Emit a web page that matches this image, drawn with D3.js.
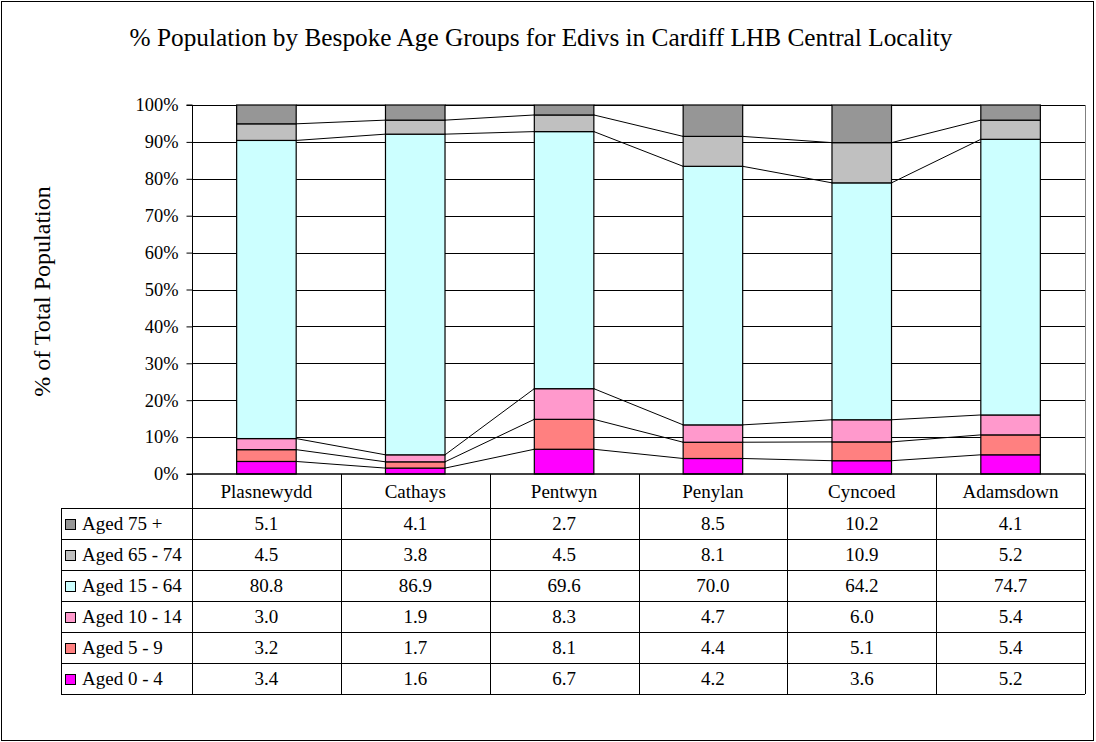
<!DOCTYPE html>
<html>
<head>
<meta charset="utf-8">
<script src="https://cdn.jsdelivr.net/npm/d3@7"></script>
<style>
body { margin: 0; background: #fff; }
</style>
</head>
<body>
<div id="chart"></div>
<script>
var w = 1096, h = 742;
var serif = "Liberation Serif";

// Data
var localities = ["Plasnewydd", "Cathays", "Pentwyn", "Penylan", "Cyncoed", "Adamsdown"];
var ageGroups = ["Aged 0 - 4", "Aged 5 - 9", "Aged 10 - 14", "Aged 15 - 64", "Aged 65 - 74", "Aged 75 +"];
var colours = ["#FF00FF", "#FF8080", "#FF99CC", "#CCFFFF", "#C0C0C0", "#969696"];
var aged0to4 = [3.4, 1.6, 6.7, 4.2, 3.6, 5.2];
var aged5to9 = [3.2, 1.7, 8.1, 4.4, 5.1, 5.4];
var aged10to14 = [3.0, 1.9, 8.3, 4.7, 6.0, 5.4];
var aged15to64 = [80.8, 86.9, 69.6, 70.0, 64.2, 74.7];
var aged65to74 = [4.5, 3.8, 4.5, 8.1, 10.9, 5.2];
var aged75plus = [5.1, 4.1, 2.7, 8.5, 10.2, 4.1];
var yTicks = [0, 0.1, 0.2, 0.3, 0.4, 0.5, 0.6, 0.7, 0.8, 0.9, 1];

var seriesValues = [aged0to4, aged5to9, aged10to14, aged15to64, aged65to74, aged75plus];

// build rows for d3.stack (normalised to 100%)
var rows = localities.map(function(name, i) {
	var row = { name: name };
	var total = 0;
	ageGroups.forEach(function(g, j) { total += seriesValues[j][i]; });
	ageGroups.forEach(function(g, j) { row[g] = seriesValues[j][i] / total; });
	return row;
});
var stacked = d3.stack().keys(ageGroups)(rows);

var svg = d3.select("#chart").append("svg")
	.attr("width", w)
	.attr("height", h)
	.style("font-family", serif);

// outer frame
svg.append("rect")
	.attr("x", 1.5).attr("y", 1.5)
	.attr("width", w - 4).attr("height", h - 3)
	.attr("fill", "#fff").attr("stroke", "#000");

// Title
svg.append("text")
	.attr("x", 541).attr("y", 46)
	.attr("text-anchor", "middle")
	.style("font-family", serif)
	.style("font-size", "25.3px")
	.text("% Population by Bespoke Age Groups for Edivs in Cardiff LHB Central Locality");

// Scales
var plotLeft = 192, plotRight = 1085, plotTop = 105, plotBottom = 474;
var x = d3.scaleBand().domain(localities).range([plotLeft, plotRight]).padding(0);
var y = d3.scaleLinear().domain([0, 1]).range([plotBottom, plotTop]);
var barW = x.bandwidth() * 0.4;
var barX = function(name) { return x(name) + (x.bandwidth() - barW) / 2; };

// Gridlines
svg.append("g").selectAll("line")
	.data(yTicks.slice(1))
	.enter().append("line")
		.attr("x1", plotLeft).attr("x2", plotRight)
		.attr("y1", function(d) { return Math.round(y(d)) + 0.5; })
		.attr("y2", function(d) { return Math.round(y(d)) + 0.5; })
		.attr("stroke", "#000").attr("stroke-width", 1);

// right border of plot area
svg.append("line")
	.attr("x1", plotRight + 0.5).attr("x2", plotRight + 0.5)
	.attr("y1", plotTop).attr("y2", plotBottom)
	.attr("stroke", "#808080");

// Y axis
var yAxis = d3.axisLeft(y)
	.tickValues(yTicks)
	.tickFormat(d3.format(".0%"))
	.tickSize(6)
	.tickPadding(8);
var yg = svg.append("g")
	.attr("transform", "translate(" + (plotLeft + 0.5) + ",0)")
	.call(yAxis);
yg.attr("font-family", null);
yg.selectAll("text").style("font-family", serif).style("font-size", "18.4px");
yg.selectAll("line, path").attr("stroke", "#000");
yg.select(".domain").attr("d", "M-6," + plotTop + "H0V" + plotBottom + "H-6");

// Y axis title
svg.append("text")
	.attr("transform", "translate(50," + ((plotTop + plotBottom) / 2 + 2) + ") rotate(-90)")
	.attr("text-anchor", "middle")
	.style("font-family", serif)
	.style("font-size", "24px")
	.text("% of Total Population");

// Series lines (between tops of segments)
var seriesLines = svg.append("g").attr("class", "series-lines");
stacked.forEach(function(layer) {
	for (var i = 0; i < localities.length - 1; i++) {
		seriesLines.append("line")
			.attr("x1", barX(localities[i]) + barW)
			.attr("y1", y(layer[i][1]))
			.attr("x2", barX(localities[i + 1]))
			.attr("y2", y(layer[i + 1][1]))
			.attr("stroke", "#000").attr("stroke-width", 1);
	}
});

// Bars
svg.append("g").selectAll("g")
	.data(stacked)
	.enter().append("g")
		.attr("fill", function(d, i) { return colours[i]; })
	.selectAll("rect")
	.data(function(d) { return d; })
	.enter().append("rect")
		.attr("x", function(d) { return barX(d.data.name); })
		.attr("y", function(d) { return y(d[1]); })
		.attr("width", barW)
		.attr("height", function(d) { return y(d[0]) - y(d[1]); })
		.attr("stroke", "#000").attr("stroke-width", 1.2);

// x baseline
svg.append("line")
	.attr("x1", plotLeft).attr("x2", plotRight)
	.attr("y1", plotBottom).attr("y2", plotBottom)
	.attr("stroke", "#000").attr("stroke-width", 1.5);

// Data table
var tableLeft = 61, headerBottom = 508, rowH = 31;
var tableRows = ageGroups.slice().reverse();
var table = svg.append("g").attr("class", "table");

// header
localities.forEach(function(name) {
	table.append("text")
		.attr("x", x(name) + x.bandwidth() / 2)
		.attr("y", (plotBottom + headerBottom) / 2 + 6.5)
		.attr("text-anchor", "middle")
		.style("font-family", serif)
		.style("font-size", "19px")
		.text(name);
});

var tableBottom = headerBottom + rowH * tableRows.length;

// horizontal lines
d3.range(tableRows.length + 1).forEach(function(r) {
	var ly = Math.round(headerBottom + r * rowH) + 0.5;
	table.append("line")
		.attr("x1", tableLeft).attr("x2", plotRight)
		.attr("y1", ly).attr("y2", ly)
		.attr("stroke", "#000");
});
// vertical lines
table.append("line")
	.attr("x1", tableLeft + 0.5).attr("x2", tableLeft + 0.5)
	.attr("y1", headerBottom).attr("y2", tableBottom)
	.attr("stroke", "#000");
localities.concat([null]).forEach(function(name) {
	var lx = (name === null ? plotRight : Math.round(x(name))) + 0.5;
	table.append("line")
		.attr("x1", lx).attr("x2", lx)
		.attr("y1", plotBottom).attr("y2", tableBottom)
		.attr("stroke", "#000");
});

tableRows.forEach(function(g, r) {
	var j = ageGroups.indexOf(g);
	var cy = headerBottom + r * rowH + rowH / 2;
	table.append("rect")
		.attr("x", 65.5).attr("y", Math.round(cy - 5) + 0.5)
		.attr("width", 10).attr("height", 10)
		.attr("fill", colours[j]).attr("stroke", "#000");
	table.append("text")
		.attr("x", 82).attr("y", cy + 6.5)
		.style("font-family", serif)
		.style("font-size", "19px")
		.text(g);
	localities.forEach(function(name, i) {
		table.append("text")
			.attr("x", x(name) + x.bandwidth() / 2)
			.attr("y", cy + 6.5)
			.attr("text-anchor", "middle")
			.style("font-family", serif)
			.style("font-size", "19px")
			.text(d3.format(".1f")(seriesValues[j][i]));
	});
});
</script>
</body>
</html>
